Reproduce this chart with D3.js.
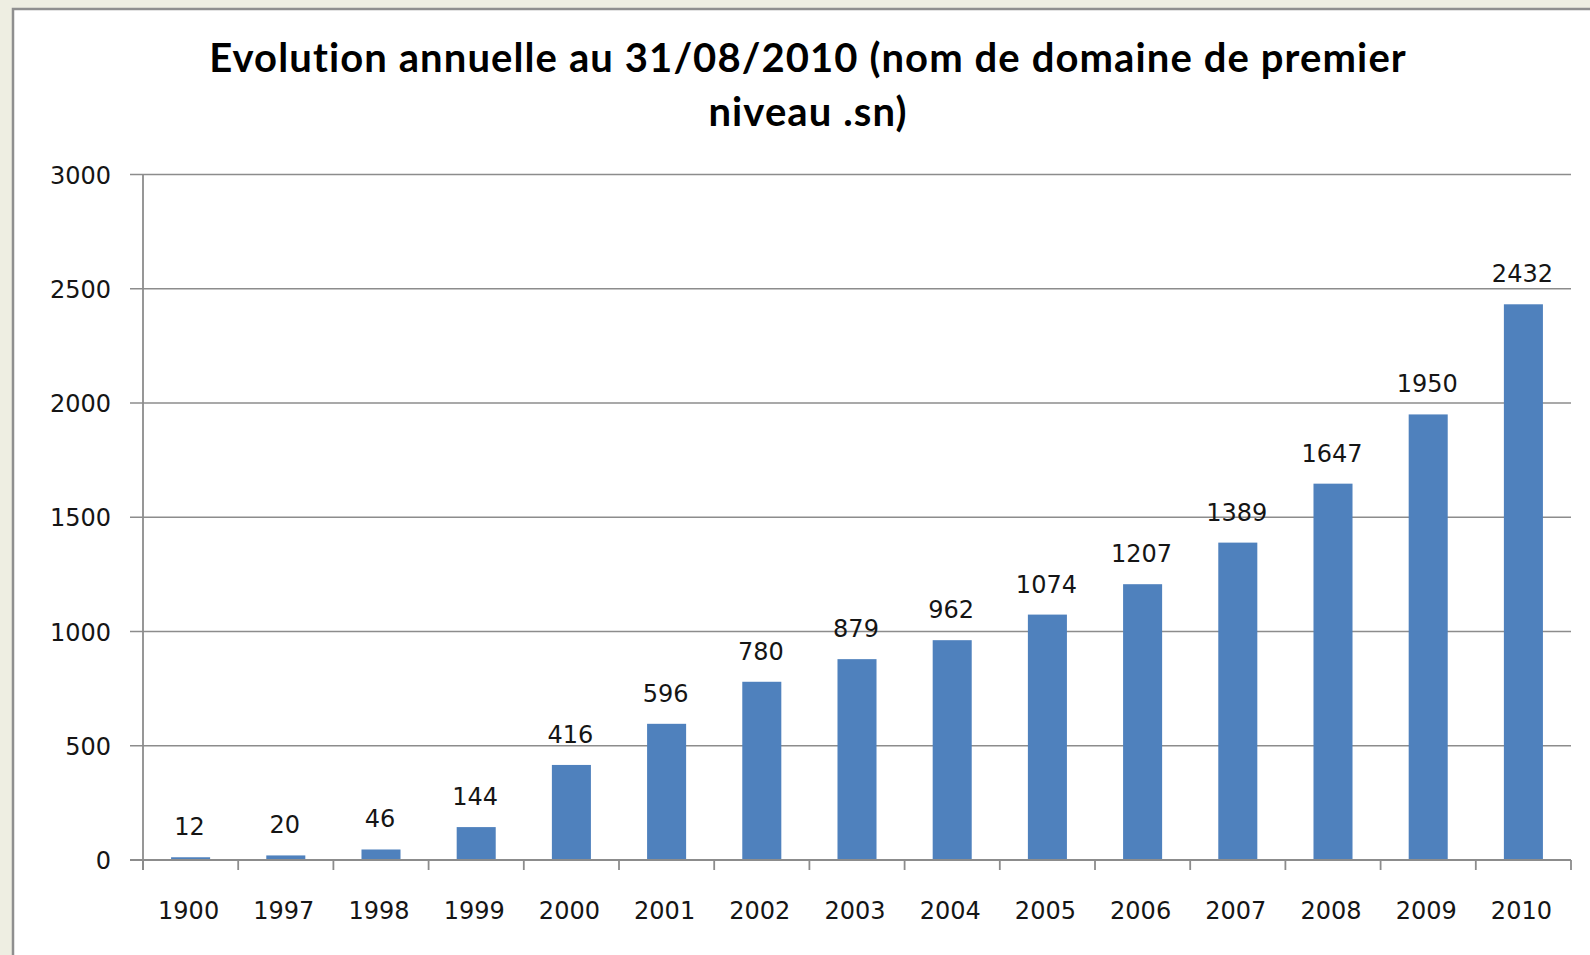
<!DOCTYPE html>
<html>
<head>
    <style>
        body { margin: 0; background: #eeeee2; }
        .tick-label { font-family: "DejaVu Sans", Verdana, sans-serif; font-size: 24px; fill: #151515; }
        .title { font-family: Lato, "Open Sans", sans-serif; font-weight: bold; font-size: 40px; letter-spacing: 1.1px; fill: #000; }
    </style>
    <script src="https://d3js.org/d3.v7.min.js"></script>
</head>
<body>
    <div id="chart"></div>

    <script>
        // data
        const years = ["1900", "1997", "1998", "1999", "2000", "2001", "2002", "2003",
                       "2004", "2005", "2006", "2007", "2008", "2009", "2010"];
        const counts = [12, 20, 46, 144, 416, 596, 780, 879, 962, 1074, 1207, 1389, 1647, 1950, 2432];
        const yTicks = [0, 500, 1000, 1500, 2000, 2500, 3000];
        const titleLines = ["Evolution annuelle au 31/08/2010 (nom de domaine de premier", "niveau .sn)"];

        const W = 1590, H = 955;
        const plot = { left: 143, right: 1571, top: 174.5, bottom: 860 };

        const svg = d3.select("#chart").append("svg")
            .attr("width", W)
            .attr("height", H)
            .style("display", "block");

        // chart frame (runs off the right and bottom of the window)
        svg.append("rect")
            .attr("x", 13).attr("y", 9)
            .attr("width", W + 20).attr("height", H + 20)
            .attr("fill", "#fff")
            .attr("stroke", "#8f8f8f")
            .attr("stroke-width", 2.5);

        // title
        svg.append("text")
            .attr("class", "title")
            .attr("text-anchor", "middle")
            .selectAll("tspan")
            .data(titleLines)
            .enter()
            .append("tspan")
            .attr("x", 808)
            .attr("y", (d, i) => 72 + i * 54)
            .text(d => d);

        const x = d3.scaleBand()
            .domain(years)
            .range([plot.left, plot.right])
            .paddingInner(0.59)
            .paddingOuter(0.295);

        const y = d3.scaleLinear()
            .domain([0, 3000])
            .range([plot.bottom, plot.top]);

        // gridlines + left tick marks
        svg.append("g")
            .selectAll("line")
            .data(yTicks)
            .enter()
            .append("line")
            .attr("x1", plot.left - 13)
            .attr("x2", plot.right)
            .attr("y1", d => y(d))
            .attr("y2", d => y(d))
            .attr("stroke", "#8c8c8c")
            .attr("stroke-width", 1.6);

        svg.append("g")
            .selectAll("text")
            .data(yTicks)
            .enter()
            .append("text")
            .attr("class", "tick-label")
            .attr("text-anchor", "end")
            .attr("x", 111)
            .attr("y", d => y(d) + 9)
            .text(d => d);

        // bars
        svg.append("g")
            .selectAll("rect")
            .data(counts)
            .enter()
            .append("rect")
            .attr("x", (d, i) => x(years[i]))
            .attr("y", d => y(d))
            .attr("width", x.bandwidth())
            .attr("height", d => y(0) - y(d))
            .attr("fill", "#4f81bd");

        // value labels
        svg.append("g")
            .selectAll("text")
            .data(counts)
            .enter()
            .append("text")
            .attr("class", "tick-label")
            .attr("text-anchor", "middle")
            .attr("x", (d, i) => x(years[i]) + x.bandwidth() / 2 - 1)
            .attr("y", d => y(d) - 22)
            .text(d => d);

        // y axis line
        svg.append("line")
            .attr("x1", plot.left).attr("x2", plot.left)
            .attr("y1", plot.top).attr("y2", plot.bottom + 10)
            .attr("stroke", "#8c8c8c")
            .attr("stroke-width", 1.8);

        // x axis: labels from the band scale, line and boundary ticks drawn below
        const xAxis = d3.axisBottom(x).tickSize(0).tickPadding(0);
        const gx = svg.append("g")
            .attr("transform", `translate(-2,${plot.bottom})`)
            .call(xAxis);
        gx.select(".domain").remove();
        gx.selectAll("text")
            .attr("class", "tick-label")
            .attr("y", 59)
            .attr("dy", null)
            .attr("font-family", null)
            .attr("font-size", null)
            .attr("fill", null);

        svg.append("line")
            .attr("x1", plot.left - 13).attr("x2", plot.right)
            .attr("y1", plot.bottom).attr("y2", plot.bottom)
            .attr("stroke", "#8c8c8c")
            .attr("stroke-width", 1.8);

        const step = x.step();
        svg.append("g")
            .selectAll("line")
            .data(d3.range(years.length + 1))
            .enter()
            .append("line")
            .attr("x1", i => plot.left + i * step)
            .attr("x2", i => plot.left + i * step)
            .attr("y1", plot.bottom)
            .attr("y2", plot.bottom + 10)
            .attr("stroke", "#8c8c8c")
            .attr("stroke-width", 1.8);
    </script>
</body>
</html>
